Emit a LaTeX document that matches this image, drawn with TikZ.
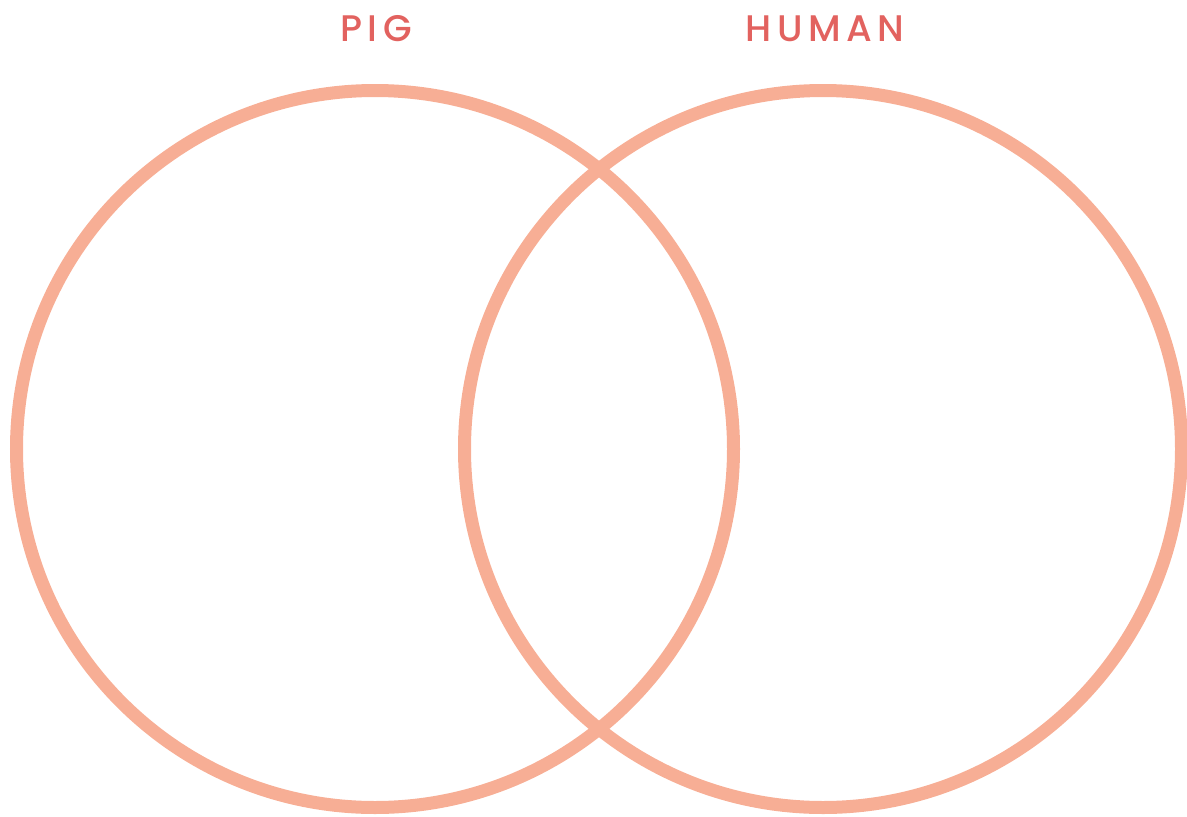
\documentclass[tikz,border=0pt]{standalone}
\usepackage{fontspec}
\newfontfamily\titlefont{Poppins Medium}[LetterSpace=15]
\usetikzlibrary{positioning}
\definecolor{ringcol}{HTML}{F7AE95}
\definecolor{titlecol}{HTML}{E2625F}

\begin{document}
\begin{tikzpicture}[x=1pt, y=-1pt]
		\useasboundingbox (0, 0) rectangle (1187, 817);
		\node[draw=ringcol, line width=13pt, circle, minimum size=717pt, inner sep=0pt] (pig) at (375, 449) {};
		\node[draw=ringcol, line width=13pt, circle, minimum size=717pt, inner sep=0pt] (human) at (823, 449) {};
		\node[text=titlecol, font=\titlefont\fontsize{37}{40}\selectfont, anchor=base] (pig_title) at (376, 41) {PIG};
		\node[text=titlecol, font=\titlefont\fontsize{37}{40}\selectfont, anchor=base] (human_title) at (825, 41) {HUMAN};
	\end{tikzpicture}
\end{document}
